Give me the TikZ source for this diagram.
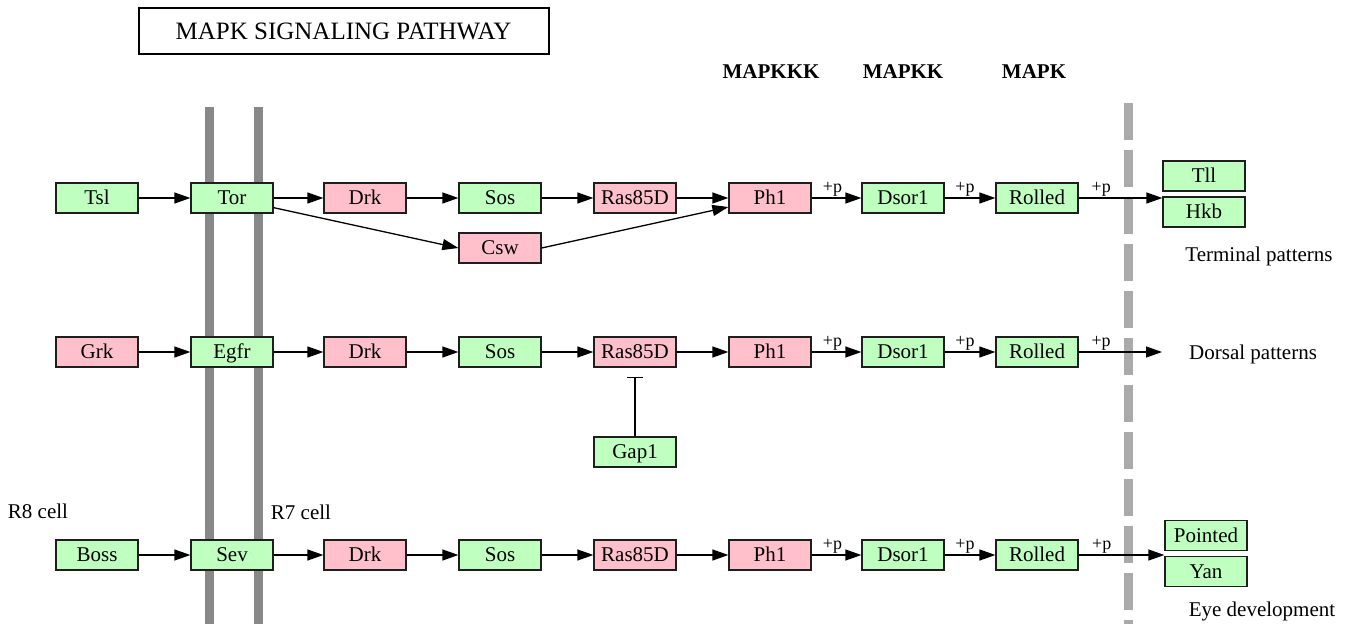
\documentclass[tikz,border=0pt]{standalone}
\usepackage{fontspec}
\setmainfont{Liberation Serif}
\usetikzlibrary{arrows.meta}
\definecolor{kgreen}{RGB}{191,255,191}
\definecolor{kpink}{RGB}{255,192,203}
\definecolor{barg}{RGB}{136,136,136}
\definecolor{dashg}{RGB}{170,170,170}
\definecolor{kline}{RGB}{30,30,30}
\begin{document}
\begin{tikzpicture}[x=1pt,y=-1pt,
  gene/.style={draw=kline, line width=1.3pt, minimum width=82pt, minimum height=30pt, inner sep=0pt, text height=15pt, text depth=2pt, font=\fontsize{21}{23}\selectfont},
  gbox/.style={gene, fill=kgreen},
  pbox/.style={gene, fill=kpink},
  arr/.style={line width=1.3pt, -{Triangle[length=16pt,width=11pt]}},
  inh/.style={line width=1.3pt, -{Bar[width=16pt,line width=1.3pt]}},
  lbl/.style={font=\fontsize{21}{23}\selectfont, inner sep=0pt},
  plab/.style={font=\fontsize{18}{20}\selectfont, inner sep=1pt, above},
  hdr/.style={font=\bfseries\fontsize{21}{23}\selectfont, inner sep=0pt}]
\useasboundingbox[fill=white] (0,0) rectangle (1349,624);

% membranes
\fill[barg] (204.5,107) rectangle (213.5,624);
\fill[barg] (253.5,107) rectangle (262.5,624);
\draw[dashg, line width=9pt, dash pattern=on 37pt off 10pt] (1128,103) -- (1128,624);

% title and headers
\node[draw=black, line width=2pt, minimum width=410pt, minimum height=46pt, inner sep=0pt, font=\fontsize{25}{27}\selectfont] (title) at (343.5,31) {MAPK SIGNALING PATHWAY};
\node[hdr] (hkkk) at (771,72) {MAPKKK};
\node[hdr] (hkk) at (903,72) {MAPKK};
\node[hdr] (hk) at (1034,72) {MAPK};

% row 1
\node[gbox] (tsl) at (97,198) {Tsl};
\node[gbox] (tor) at (232,198) {Tor};
\node[pbox] (drk1) at (365,198) {Drk};
\node[gbox] (sos1) at (500,198) {Sos};
\node[pbox] (ras1) at (635,198) {Ras85D};
\node[pbox] (ph1a) at (770,198) {Ph1};
\node[gbox] (dsr1) at (903,198) {Dsor1};
\node[gbox] (rol1) at (1037,198) {Rolled};
\node[pbox] (csw) at (500,248) {Csw};
\node[gbox] (tll) at (1204,176) {Tll};
\node[gbox] (hkb) at (1204,212) {Hkb};
\node[lbl] (term) at (1259,256) {Terminal patterns};

\draw[arr] (tsl) -- (tor);
\draw[arr] (tor) -- (drk1);
\draw[arr] (drk1) -- (sos1);
\draw[arr] (sos1) -- (ras1);
\draw[arr] (ras1) -- (ph1a);
\draw[arr] (ph1a) -- node[plab, pos=.42] {+p} (dsr1);
\draw[arr] (dsr1) -- node[plab, pos=.40] {+p} (rol1);
\draw[arr] (rol1) -- node[plab, pos=.27] {+p} (rol1 -| hkb.west);
\draw[arr] ([yshift=6pt]tor.south east) -- (csw.west);
\draw[arr] (csw.east) -- ([yshift=-9pt]ph1a.west);

% row 2
\node[pbox] (grk) at (97,352) {Grk};
\node[gbox] (egfr) at (232,352) {Egfr};
\node[pbox] (drk2) at (365,352) {Drk};
\node[gbox] (sos2) at (500,352) {Sos};
\node[pbox] (ras2) at (635,352) {Ras85D};
\node[pbox] (ph1b) at (770,352) {Ph1};
\node[gbox] (dsr2) at (903,352) {Dsor1};
\node[gbox] (rol2) at (1037,352) {Rolled};
\node[gbox] (gap) at (635,452) {Gap1};
\coordinate (dend) at (1162,352);
\node[lbl, anchor=west] (dors) at (1189,354) {Dorsal patterns};

\draw[arr] (grk) -- (egfr);
\draw[arr] (egfr) -- (drk2);
\draw[arr] (drk2) -- (sos2);
\draw[arr] (sos2) -- (ras2);
\draw[arr] (ras2) -- (ph1b);
\draw[arr] (ph1b) -- node[plab, pos=.42] {+p} (dsr2);
\draw[arr] (dsr2) -- node[plab, pos=.40] {+p} (rol2);
\draw[arr] (rol2) -- node[plab, pos=.27] {+p} (dend);
\draw[inh, shorten >=9pt] (gap) -- (ras2);

% row 3
\node[gbox] (boss) at (97,555) {Boss};
\node[gbox] (sev) at (232,555) {Sev};
\node[pbox] (drk3) at (365,555) {Drk};
\node[gbox] (sos3) at (500,555) {Sos};
\node[pbox] (ras3) at (635,555) {Ras85D};
\node[pbox] (ph1c) at (770,555) {Ph1};
\node[gbox] (dsr3) at (903,555) {Dsor1};
\node[gbox] (rol3) at (1037,555) {Rolled};
\node[gbox] (pnt) at (1206,535.5) {Pointed};
\node[gbox] (yan) at (1206,571.5) {Yan};
\node[lbl] (eye) at (1262,611) {Eye development};
\node[lbl] (r8) at (38,511) {R8 cell};
\node[lbl] (r7) at (301,512) {R7 cell};

\draw[arr] (boss) -- (sev);
\draw[arr] (sev) -- (drk3);
\draw[arr] (drk3) -- (sos3);
\draw[arr] (sos3) -- (ras3);
\draw[arr] (ras3) -- (ph1c);
\draw[arr] (ph1c) -- node[plab, pos=.42] {+p} (dsr3);
\draw[arr] (dsr3) -- node[plab, pos=.40] {+p} (rol3);
\draw[arr] (rol3) -- node[plab, pos=.27] {+p} (rol3 -| yan.west);
\end{tikzpicture}
\end{document}
